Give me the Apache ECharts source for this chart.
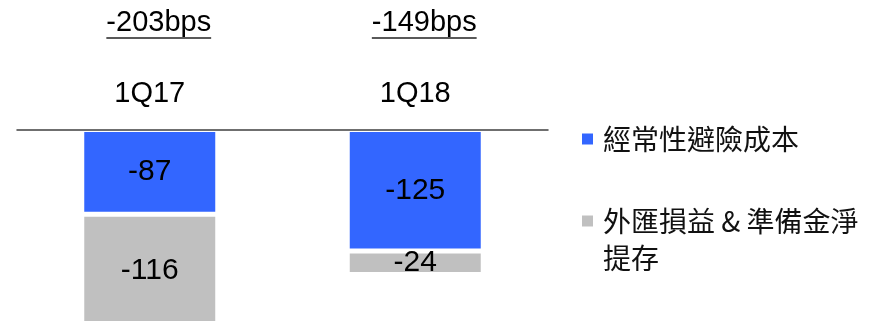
<!DOCTYPE html>
<html>
<head>
<meta charset="utf-8">
<script src="https://cdn.jsdelivr.net/npm/echarts@6/dist/echarts.min.js"></script>
<style>
  html, body { margin: 0; padding: 0; background: #fff; }
  #chart { width: 873px; height: 321px; }
</style>
</head>
<body>
<div id="chart"></div>
<script>
// Quarters shown along the top axis
const quarters = ['1Q17', '1Q18'];
// Series names (legend)
const hedgeName = '經常性避險成本';
const fxName = '外匯損益 & 準備金淨提存';
// Values in bps
const hedgeCost = [-87, -125];
const fxAndProvision = [-116, -24];
// Quarter totals shown above each column
const totals = quarters.map((q, i) => hedgeCost[i] + fxAndProvision[i]);

const LATIN = '"Liberation Sans", Arial, sans-serif';
const CJK = '"Noto Sans CJK TC", "Noto Sans CJK SC", sans-serif';

// Width of a total label, used for its underline
function textWidth(str, size) {
  const ctx = document.createElement('canvas').getContext('2d');
  ctx.font = size + 'px "Liberation Sans", Arial, sans-serif';
  return ctx.measureText(str).width;
}

const totalText = totals.map(t => t + 'bps');
const totalRich = {
  t: { fontFamily: LATIN, fontSize: 29, color: '#000', lineHeight: 28, align: 'center' }
};
totalText.forEach((s, i) => {
  totalRich['u' + i] = { width: textWidth(s, 29), height: 1.5, lineHeight: 3, backgroundColor: '#222', align: 'center' };
});

const chart = echarts.init(document.getElementById('chart'), null, { renderer: 'canvas' });

const barStyle = (color) => ({ color: color, borderColor: '#fff', borderWidth: 2.5 });
const barLabel = {
  show: true,
  position: 'inside',
  color: '#000',
  fontFamily: LATIN,
  fontSize: 30,
  formatter: p => String(p.value)
};

chart.setOption({
  animation: false,
  backgroundColor: '#fff',
  grid: { left: 17, right: 325, top: 129.5, height: 204.3, containLabel: false, outerBoundsMode: 'none' },
  xAxis: [
    {
      type: 'category',
      position: 'top',
      z: 10,
      data: quarters,
      axisLine: { show: true, lineStyle: { color: '#404040', width: 1.5 } },
      axisTick: { show: false },
      axisLabel: { fontFamily: LATIN, fontSize: 29, color: '#000', lineHeight: 34, margin: 19 }
    },
    {
      type: 'category',
      position: 'top',
      data: quarters,
      axisLine: { show: false },
      axisTick: { show: false },
      axisLabel: {
        margin: 90,
        padding: [0, 0, 0, 18],
        formatter: (v, i) => '{t|' + totalText[i] + '}\n{u' + i + '|}',
        rich: totalRich
      }
    }
  ],
  yAxis: {
    type: 'value',
    min: -210,
    max: 0,
    show: false,
    splitLine: { show: false }
  },
  legend: [
    {
      data: [hedgeName],
      orient: 'vertical',
      left: 582,
      top: 120.5,
      padding: 0,
      icon: 'rect',
      itemWidth: 11,
      itemHeight: 11,
      itemStyle: { borderWidth: 0 },
      textStyle: { fontFamily: CJK, fontSize: 28, color: '#111', lineHeight: 37, padding: [0, 0, 0, 5] }
    },
    {
      data: [fxName],
      orient: 'vertical',
      left: 582,
      top: 165.5,
      padding: 0,
      icon: 'rect',
      itemWidth: 11,
      itemHeight: 11,
      itemStyle: { borderWidth: 0 },
      // first line sits level with the icon, the wrapped part goes below it
      formatter: () => '\n外匯損益 & 準備金淨\n提存',
      textStyle: { fontFamily: CJK, fontSize: 28, color: '#111', lineHeight: 37, padding: [0, 0, 0, 5] }
    }
  ],
  series: [
    {
      name: hedgeName,
      type: 'bar',
      stack: 'total',
      barWidth: 136,
      data: hedgeCost,
      itemStyle: barStyle('#3366FF'),
      label: barLabel
    },
    {
      name: fxName,
      type: 'bar',
      stack: 'total',
      barWidth: 136,
      data: fxAndProvision,
      itemStyle: barStyle('#C0C0C0'),
      label: barLabel
    }
  ]
});
</script>
</body>
</html>
